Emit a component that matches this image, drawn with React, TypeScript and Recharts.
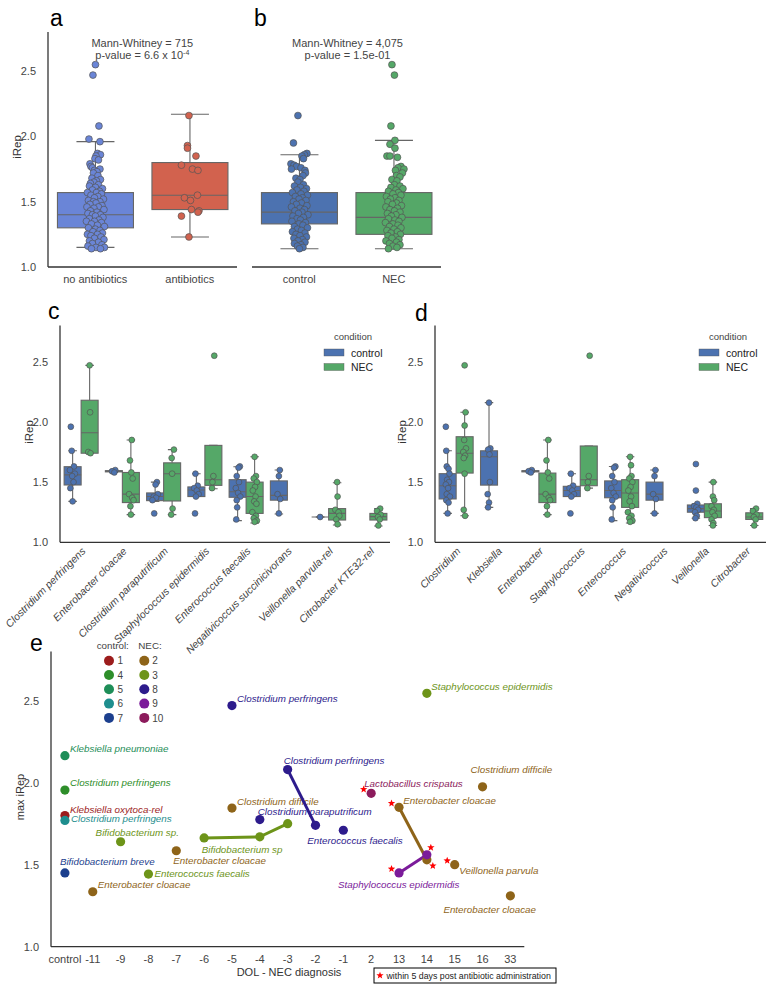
import { Bar, ComposedChart, Scatter, ScatterChart, XAxis, YAxis } from 'recharts'

const FONT = "'Liberation Sans', Arial, Helvetica, sans-serif"
const AXIS = '#333333'
const TICK = '#444444'
const EDGE = '#666666'
const CTRL = '#4C72B0'
const NECC = '#55A868'

// ---------- a: antibiotics ----------
const abxGroups = ['no antibiotics', 'antibiotics']
const abxColors = ['#6A85D7', '#D2624E']
// [whisker low, q1, median, q3, whisker high]
const abxStats = [
  [1.15, 1.3, 1.4, 1.57, 1.96],
  [1.23, 1.44, 1.55, 1.8, 2.17],
]
// [iRep, jitter]
const noAbxPoints = [
  [2.55, 0.0], [2.47, -0.25], [2.08, 0.35], [1.98, -0.65], [1.96, 0.45],
  [1.87, 0.2], [1.86, 0.5], [1.85, 0.05], [1.83, -0.05], [1.82, 0.3], [1.79, -0.55], [1.77, -0.45],
  [1.76, -0.3], [1.75, 0.45], [1.74, -0.1], [1.73, 0.15], [1.72, -0.2], [1.7, 0.25], [1.68, -0.35],
  [1.67, 0.5], [1.66, 0.1], [1.65, -0.15], [1.64, -0.5], [1.63, 0.3], [1.62, -0.6], [1.61, 0.0],
  [1.6, 0.7], [1.59, -0.3], [1.58, 0.4], [1.57, -0.8], [1.57, 0.1], [1.56, 0.6], [1.55, -0.45],
  [1.54, 0.25], [1.53, -0.1], [1.52, 0.8], [1.51, -0.7], [1.5, 0.45], [1.5, -0.2], [1.49, 0.05],
  [1.48, -0.55], [1.47, 0.65], [1.46, -0.85], [1.46, 0.3], [1.45, -0.15], [1.44, 0.85], [1.43, -0.5],
  [1.42, 0.15], [1.41, -0.75], [1.4, 0.5], [1.4, -0.3], [1.39, 0.0], [1.38, 0.75], [1.37, -0.6],
  [1.36, 0.35], [1.35, -0.9], [1.35, -0.1], [1.34, 0.6], [1.33, -0.4], [1.32, 0.2], [1.31, 0.9],
  [1.3, -0.7], [1.29, 0.0], [1.28, 0.45], [1.27, -0.25], [1.26, 0.7], [1.25, -0.8], [1.25, 0.2],
  [1.24, -0.45], [1.23, 0.55], [1.22, -0.1], [1.21, 0.85], [1.2, -0.6], [1.19, 0.3], [1.18, -0.3],
  [1.17, 0.65], [1.16, -0.75], [1.15, 0.05], [1.15, 0.9], [1.14, -0.4], [1.14, 0.5],
]
const abxPoints = [
  [2.16, -0.1], [1.93, -0.25], [1.91, -0.25], [1.85, 0.6], [1.78, -0.85], [1.75, 0.25], [1.74, 0.8],
  [1.55, 0.75], [1.53, -0.55], [1.51, 0.05], [1.44, 0.15], [1.43, 0.9], [1.42, 0.8], [1.39, -0.85],
  [1.23, -0.1],
]

// ---------- b: control vs NEC ----------
const necGroups = ['control', 'NEC']
const necColors = [CTRL, NECC]
const necStats = [
  [1.14, 1.33, 1.42, 1.57, 1.86],
  [1.14, 1.25, 1.38, 1.57, 1.97],
]
const controlPoints = [
  [2.16, -0.15], [1.95, -0.6], [1.87, 0.75], [1.86, 0.5], [1.85, 0.25], [1.83, 0.4], [1.79, -0.85],
  [1.78, -0.55], [1.77, -0.3], [1.76, 0.15], [1.75, -0.8], [1.74, 0.55], [1.72, 0.6], [1.7, 0.35],
  [1.68, -0.35], [1.67, 0.05], [1.65, -0.15], [1.63, 0.4], [1.62, -0.5], [1.61, 0.1], [1.6, 0.7],
  [1.59, -0.25], [1.58, 0.45], [1.57, -0.7], [1.56, 0.15], [1.55, 0.8], [1.54, -0.4], [1.53, 0.3],
  [1.52, -0.05], [1.51, 0.65], [1.5, -0.6], [1.49, 0.2], [1.48, -0.3], [1.47, 0.75], [1.46, -0.8],
  [1.45, 0.05], [1.44, 0.5], [1.43, -0.45], [1.42, 0.25], [1.41, -0.1], [1.4, 0.85], [1.39, -0.65],
  [1.38, 0.4], [1.37, -0.25], [1.36, 0.1], [1.35, -0.75], [1.34, 0.6], [1.33, -0.05], [1.32, 0.35],
  [1.31, -0.5], [1.3, 0.8], [1.29, -0.2], [1.28, 0.2], [1.27, -0.7], [1.26, 0.55], [1.25, -0.35],
  [1.24, 0.05], [1.23, 0.7], [1.22, -0.55], [1.21, 0.3], [1.2, -0.15], [1.19, 0.55], [1.18, -0.5],
  [1.17, 0.15], [1.16, -0.2], [1.15, 0.35], [1.14, 0.0],
]
const necPoints = [
  [2.55, -0.2], [2.47, 0.05], [2.08, -0.3], [1.97, 0.1], [1.94, -0.4], [1.91, 0.1], [1.85, -0.7],
  [1.85, -0.4], [1.84, 0.35], [1.77, 0.7], [1.76, 0.4], [1.75, 1.0], [1.74, 0.15], [1.72, 0.85],
  [1.7, 0.25], [1.69, 0.6], [1.67, -0.2], [1.66, 0.3], [1.63, 0.05], [1.62, 0.6], [1.61, -0.3],
  [1.6, 0.9], [1.59, 0.2], [1.58, -0.55], [1.57, 0.45], [1.56, -0.1], [1.55, 0.7], [1.54, -0.75],
  [1.53, 0.1], [1.52, -0.35], [1.51, 0.5], [1.5, -0.6], [1.49, 0.25], [1.48, -0.15], [1.47, 0.75],
  [1.46, -0.8], [1.45, 0.35], [1.44, -0.4], [1.43, 0.05], [1.42, 0.6], [1.41, -0.65], [1.4, 0.2],
  [1.39, -0.25], [1.38, 0.8], [1.37, -0.55], [1.36, 0.1], [1.35, 0.5], [1.34, -0.85], [1.33, -0.1],
  [1.32, 0.4], [1.31, -0.45], [1.3, 0.7], [1.29, 0.0], [1.28, -0.7], [1.27, 0.35], [1.26, -0.3],
  [1.25, 0.65], [1.24, -0.6], [1.23, 0.15], [1.22, -0.2], [1.21, 0.5], [1.2, -0.8], [1.19, 0.25],
  [1.18, -0.45], [1.17, 0.6], [1.16, -0.1], [1.15, 0.3], [1.14, -0.55],
]

// ---------- c: species ----------
const species = [
  'Clostridium perfringens', 'Enterobacter cloacae', 'Clostridium paraputrificum',
  'Staphylococcus epidermidis', 'Enterococcus faecalis', 'Negativicoccus succinicivorans',
  'Veillonella parvula-rel', 'Citrobacter KTE32-rel',
]
const speciesCtrlStats = [
  [1.34, 1.476, 1.56, 1.628, 1.76],
  [1.58, 1.585, 1.59, 1.595, 1.6],
  [1.34, 1.346, 1.38, 1.41, 1.5],
  [1.38, 1.38, 1.435, 1.46, 1.57],
  [1.18, 1.374, 1.42, 1.52, 1.628],
  [1.235, 1.35, 1.39, 1.51, 1.6],
  [1.21, 1.21, 1.21, 1.21, 1.21],
  null,
]
const speciesCtrlPoints = [
  [[1.96, -0.4], [1.76, -0.2], [1.63, 0.3], [1.6, -0.6], [1.57, 0.5], [1.55, -0.1], [1.5, 0.2], [1.45, -0.5], [1.34, 0.0]],
  [[1.6, 0.3], [1.59, -0.4], [1.58, 0.1]],
  [[1.5, 0.4], [1.48, 0.1], [1.4, 0.6], [1.38, -0.3], [1.37, 0.2], [1.35, -0.6], [1.24, -0.2]],
  [[1.57, -0.2], [1.47, 0.3], [1.45, -0.5], [1.43, 0.1], [1.4, 0.5], [1.38, -0.1], [1.24, -0.3]],
  [[1.63, 0.5], [1.62, 0.2], [1.55, -0.2], [1.5, 0.3], [1.45, -0.4], [1.41, 0.1], [1.38, 0.6], [1.35, -0.2], [1.29, -0.1], [1.19, -0.3]],
  [[1.6, 0.2], [1.55, 0.0], [1.4, -0.3], [1.36, 0.3], [1.24, 0.0]],
  [[1.21, 0.0]],
  [],
]
const speciesNecStats = [
  [1.74, 1.74, 1.91, 2.18, 2.47],
  [1.23, 1.33, 1.4, 1.58, 1.85],
  [1.23, 1.343, 1.57, 1.66, 1.77],
  [1.445, 1.473, 1.52, 1.805, 1.805],
  [1.16, 1.24, 1.38, 1.5, 1.71],
  null,
  [1.144, 1.185, 1.24, 1.28, 1.495],
  [1.136, 1.185, 1.213, 1.24, 1.28],
]
const speciesNecPoints = [
  [[2.47, 0.0], [2.08, 0.1], [1.75, -0.3], [1.74, 0.2]],
  [[1.85, 0.2], [1.68, -0.2], [1.58, 0.1], [1.53, 0.4], [1.4, -0.4], [1.37, 0.3], [1.35, 0.6], [1.3, -0.1], [1.23, 0.0]],
  [[1.77, 0.4], [1.7, -0.1], [1.57, 0.0], [1.28, 0.1], [1.23, -0.2]],
  [[2.55, 0.2], [1.55, 0.0], [1.5, -0.2], [1.45, -0.3]],
  [[1.71, 0.0], [1.55, 0.3], [1.53, -0.2], [1.5, 0.5], [1.46, 0.1], [1.43, -0.4], [1.38, 0.2], [1.34, -0.1], [1.32, 0.4], [1.25, -0.5], [1.22, 0.3], [1.2, -0.2], [1.18, 0.5], [1.17, 0.0]],
  [],
  [[1.5, 0.0], [1.38, 0.1], [1.27, -0.4], [1.25, 0.3], [1.22, 0.5], [1.19, -0.2], [1.15, 0.1]],
  [[1.28, 0.4], [1.26, -0.3], [1.23, 0.5], [1.21, -0.1], [1.19, 0.3], [1.14, 0.0]],
]

// ---------- d: genus ----------
const genera = [
  'Clostridium', 'Klebsiella', 'Enterobacter', 'Staphylococcus',
  'Enterococcus', 'Negativicoccus', 'Veillonella', 'Citrobacter',
]
const genusCtrlStats = [
  [1.24, 1.36, 1.47, 1.57, 1.76],
  [1.29, 1.475, 1.71, 1.76, 2.16],
  [1.58, 1.585, 1.59, 1.595, 1.6],
  [1.38, 1.38, 1.43, 1.465, 1.57],
  [1.18, 1.37, 1.43, 1.51, 1.63],
  [1.24, 1.35, 1.4, 1.5, 1.6],
  [1.2, 1.25, 1.28, 1.31, 1.32],
  null,
]
const genusCtrlPoints = [
  [[1.96, -0.4], [1.76, -0.3], [1.63, -0.2], [1.61, 0.2], [1.57, 0.4], [1.52, -0.1], [1.5, 0.3], [1.48, -0.4], [1.45, 0.1], [1.4, -0.2], [1.38, 0.5], [1.35, -0.3], [1.33, 0.2], [1.24, 0.0]],
  [[2.16, 0.0], [1.78, 0.3], [1.77, -0.2], [1.73, 0.1], [1.5, 0.2], [1.4, -0.3], [1.33, 0.0], [1.29, -0.2]],
  [[1.6, 0.3], [1.59, -0.4], [1.58, 0.1]],
  [[1.57, -0.2], [1.47, 0.3], [1.45, -0.5], [1.43, 0.1], [1.4, 0.5], [1.38, -0.1], [1.24, -0.3]],
  [[1.63, 0.5], [1.62, 0.2], [1.55, -0.2], [1.5, 0.3], [1.45, -0.4], [1.41, 0.1], [1.38, 0.6], [1.35, -0.2], [1.29, -0.1], [1.19, -0.3]],
  [[1.6, 0.2], [1.55, 0.0], [1.4, -0.3], [1.36, 0.3], [1.24, 0.0]],
  [[1.65, 0.0], [1.43, 0.0], [1.32, 0.3], [1.3, -0.4], [1.29, 0.1], [1.27, 0.5], [1.25, -0.2], [1.22, 0.2], [1.2, -0.1]],
  [],
]
const genusNecStats = [
  [1.22, 1.575, 1.74, 1.877, 2.08],
  null,
  [1.23, 1.33, 1.4, 1.575, 1.85],
  [1.45, 1.47, 1.52, 1.8, 1.8],
  [1.16, 1.29, 1.41, 1.52, 1.71],
  null,
  [1.14, 1.205, 1.26, 1.32, 1.5],
  [1.14, 1.19, 1.21, 1.245, 1.28],
]
const genusNecPoints = [
  [[2.47, 0.0], [2.08, 0.2], [1.97, 0.0], [1.85, -0.1], [1.78, 0.3], [1.75, -0.3], [1.72, 0.1], [1.7, -0.2], [1.57, 0.0], [1.27, -0.2], [1.22, 0.1]],
  [],
  [[1.85, 0.2], [1.68, -0.2], [1.58, 0.1], [1.53, 0.4], [1.4, -0.4], [1.37, 0.3], [1.35, 0.6], [1.3, -0.1], [1.23, 0.0]],
  [[2.55, 0.2], [1.55, 0.0], [1.5, -0.2], [1.45, -0.3]],
  [[1.71, 0.0], [1.64, 0.2], [1.55, 0.3], [1.53, -0.2], [1.5, 0.5], [1.46, 0.1], [1.43, -0.4], [1.38, 0.2], [1.34, -0.1], [1.3, 0.4], [1.25, -0.5], [1.22, 0.3], [1.2, -0.2], [1.18, 0.5], [1.17, 0.0]],
  [],
  [[1.5, 0.1], [1.38, 0.0], [1.35, 0.3], [1.3, -0.3], [1.27, 0.2], [1.25, -0.1], [1.22, 0.4], [1.19, -0.3], [1.16, 0.1], [1.14, 0.0]],
  [[1.28, 0.4], [1.26, -0.3], [1.23, 0.5], [1.21, -0.1], [1.19, 0.3], [1.14, 0.0]],
]

// ---------- e: max iRep vs DOL ----------
const dolTicks = ['control', '-11', '-9', '-8', '-7', '-6', '-5', '-4', '-3', '-2', '-1', '2', '13', '14', '15', '16', '33']
const controlSubjects = ['1', '4', '5', '6', '7']
const necSubjects = ['2', '3', '8', '9', '10']
const subjectColors: Record<string, string> = {
  '1': '#9C1C1C', '4': '#2E8E2A', '5': '#1E8E58', '6': '#1E8E8E', '7': '#1C3F8E',
  '2': '#8E6419', '3': '#6D9419', '8': '#2D1B8C', '9': '#7B1B9A', '10': '#8C1B5C',
}
// [DOL, max iRep, subject, taxon, antibiotic star, track]
const maxIRep: [string, number, string, string, string, string][] = [
  ['control', 2.165, '5', 'Klebsiella pneumoniae', '', ''],
  ['control', 1.955, '4', 'Clostridium perfringens', '', ''],
  ['control', 1.8, '1', 'Klebsiella oxytoca-rel', '', ''],
  ['control', 1.77, '6', 'Clostridium perfringens', '', ''],
  ['control', 1.45, '7', 'Bifidobacterium breve', '', ''],
  ['-11', 1.335, '2', 'Enterobacter cloacae', '', ''],
  ['-9', 1.64, '3', 'Bifidobacterium sp.', '', ''],
  ['-8', 1.443, '3', 'Enterococcus faecalis', '', ''],
  ['-7', 1.585, '2', 'Enterobacter cloacae', '', ''],
  ['-6', 1.663, '3', '', '', 'bifido'],
  ['-5', 2.47, '8', 'Clostridium perfringens', '', ''],
  ['-5', 1.845, '2', 'Clostridium difficile', '', ''],
  ['-4', 1.775, '8', 'Clostridium paraputrificum', '', ''],
  ['-4', 1.67, '3', 'Bifidobacterium sp', '', 'bifido'],
  ['-3', 1.75, '3', '', '', 'bifido'],
  ['-3', 2.08, '8', 'Clostridium perfringens', '', 'cperf'],
  ['-2', 1.74, '8', '', '', 'cperf'],
  ['-1', 1.71, '8', 'Enterococcus faecalis', '', ''],
  ['2', 1.935, '10', 'Lactobacillus crispatus', 'ul', ''],
  ['13', 1.85, '2', 'Enterobacter cloacae', 'ul', 'ecloacae'],
  ['13', 1.45, '9', 'Staphylococcus epidermidis', 'ul', 'sepi'],
  ['14', 2.545, '3', 'Staphylococcus epidermidis', '', ''],
  ['14', 1.53, '2', '', 'dr', 'ecloacae'],
  ['14', 1.56, '9', '', 'ur', 'sepi'],
  ['15', 1.5, '2', 'Veillonella parvula', 'ul', ''],
  ['16', 1.975, '2', 'Clostridium difficile', '', ''],
  ['33', 1.31, '2', 'Enterobacter cloacae', '', ''],
]
const trackNames = ['bifido', 'cperf', 'ecloacae', 'sepi']

// label placement next to each point (px from the point, text centre)
const eLabelOffset = [
  [5, -7], [5, -7], [5, -6], [6, -2], [-5, -11.5], [5, -7.5], [-25, -9.5], [6, 0], [-3, 9.7],
  [0, 0], [5, -7], [5, -7], [-2, -8.4], [-58, 12.3], [0, 0], [-4, -9], [0, 0], [-36, 10.7],
  [-7, -10], [4.3, -7], [-61, 11.6], [4.3, -7], [0, 0], [0, 0], [4.6, 5.7], [-12, -17], [-67, 14],
]
const starOffset: Record<string, number[]> = { ul: [-7.5, -4], ur: [4, -7.3], dr: [6, 6] }

const yAxisProps = {
  type: 'number' as const,
  domain: [1, 2.8],
  ticks: [1, 1.5, 2, 2.5],
  allowDataOverflow: true,
  tickLine: false,
  tickMargin: 6,
  tickFormatter: (v: number) => v.toFixed(1),
  axisLine: { stroke: AXIS, strokeWidth: 1.3 },
  tick: { fill: TICK, fontSize: 11, fontFamily: FONT },
}

const starPath = (cx: number, cy: number, R: number) => {
  let d = ''
  for (let i = 0; i < 10; i++) {
    const r = i % 2 ? R * 0.42 : R
    const a = -Math.PI / 2 + (i * Math.PI) / 5
    d += (i ? 'L' : 'M') + (cx + r * Math.cos(a)).toFixed(2) + ' ' + (cy + r * Math.sin(a)).toFixed(2)
  }
  return d + 'Z'
}

// box + whiskers + strip points; the bar spans whisker low..high, the rest is placed on that scale
const BoxShape = (props: any) => {
  const { x, y, width, height, box, color, jitter, r } = props
  if (!box || x == null || isNaN(y)) return <g />
  const [lo, q1, med, q3, hi] = box.stats
  const top = Math.min(y, y + height)
  const bottom = Math.max(y, y + height)
  const k = hi > lo ? (bottom - top) / (hi - lo) : 0
  const py = (v: number) => bottom - (v - lo) * k
  const cx = x + width / 2
  const cap = width / 4
  return (
    <g>
      <line x1={cx} x2={cx} y1={py(hi)} y2={py(q3)} stroke={EDGE} strokeWidth={1.1} />
      <line x1={cx} x2={cx} y1={py(q1)} y2={py(lo)} stroke={EDGE} strokeWidth={1.1} />
      <line x1={cx - cap} x2={cx + cap} y1={py(hi)} y2={py(hi)} stroke={EDGE} strokeWidth={1.1} />
      <line x1={cx - cap} x2={cx + cap} y1={py(lo)} y2={py(lo)} stroke={EDGE} strokeWidth={1.1} />
      <rect x={x} y={py(q3)} width={width} height={Math.max(py(q1) - py(q3), 0)} fill={color} stroke={EDGE} strokeWidth={1.1} />
      <line x1={x} x2={x + width} y1={py(med)} y2={py(med)} stroke={EDGE} strokeWidth={1.1} />
      {box.pts.map(([v, j]: number[], i: number) => (
        <circle key={i} cx={cx + j * jitter} cy={py(v)} r={r} fill={color} stroke="#555" strokeWidth={0.7} />
      ))}
    </g>
  )
}

const SlantTick = ({ x, y, payload }: any) => (
  <text
    x={x + 3}
    y={y - 1}
    transform={`rotate(-45 ${x + 3} ${y - 1})`}
    textAnchor="end"
    dy="0.35em"
    fontSize={10.5}
    fontStyle="italic"
    fill={TICK}
    fontFamily={FONT}
  >
    {payload.value}
  </text>
)

const abRows = (groups: string[], stats: number[][], pts: number[][][], colors: string[]) =>
  groups.map((g, i) => ({ group: g, box: { stats: stats[i], pts: pts[i] }, color: colors[i] }))

const aRows = abRows(abxGroups, abxStats, [noAbxPoints, abxPoints], abxColors)
const bRows = abRows(necGroups, necStats, [controlPoints, necPoints], necColors)

const hueRows = (cats: string[], cs: any[], cp: number[][][], ns: any[], np: number[][][]) =>
  cats.map((c, i) => ({
    cat: c,
    ctrl: cs[i] ? { stats: cs[i], pts: cp[i] } : null,
    nec: ns[i] ? { stats: ns[i], pts: np[i] } : null,
  }))

const cRows = hueRows(species, speciesCtrlStats, speciesCtrlPoints, speciesNecStats, speciesNecPoints)
const dRows = hueRows(genera, genusCtrlStats, genusCtrlPoints, genusNecStats, genusNecPoints)

const eRows = maxIRep.map(([day, v, subject, taxon, star, track], i) => ({
  x: dolTicks.indexOf(day),
  y: v,
  subject,
  taxon,
  star,
  track,
  dx: eLabelOffset[i][0],
  dy: eLabelOffset[i][1],
}))

const SimpleBoxChart = ({ rows, left, width, ml, mr, showY }: any) => (
  <div style={{ position: 'absolute', left, top: 0 }}>
    <ComposedChart width={width} height={300} data={rows} margin={{ top: 32, right: mr, bottom: 0, left: ml }} barCategoryGap="10%">
      <XAxis
        dataKey="group"
        type="category"
        height={33}
        tickLine={false}
        interval={0}
        axisLine={{ stroke: AXIS, strokeWidth: 1.3 }}
        tick={{ fill: TICK, fontSize: 11, fontFamily: FONT }}
      />
      {showY ? <YAxis {...yAxisProps} width={48} /> : <YAxis {...yAxisProps} width={0} tick={false} />}
      <Bar
        dataKey={(d: any) => [d.box.stats[0], d.box.stats[4]]}
        isAnimationActive={false}
        shape={(p: any) => <BoxShape {...p} box={p.payload.box} color={p.payload.color} jitter={10} r={3.4} />}
      />
    </ComposedChart>
  </div>
)

const HueBoxChart = ({ rows, left, width, yWidth, mr }: any) => (
  <div style={{ position: 'absolute', left, top: 300 }}>
    <ComposedChart width={width} height={385} data={rows} margin={{ top: 25.6, right: mr, bottom: 0, left: 0 }} barCategoryGap="10%" barGap={0}>
      <XAxis dataKey="cat" type="category" height={142.7} tickLine={false} interval={0} axisLine={{ stroke: AXIS, strokeWidth: 1.3 }} tick={<SlantTick />} />
      <YAxis {...yAxisProps} width={yWidth} />
      <Bar
        dataKey={(d: any) => (d.ctrl ? [d.ctrl.stats[0], d.ctrl.stats[4]] : null)}
        isAnimationActive={false}
        shape={(p: any) => <BoxShape {...p} box={p.payload.ctrl} color={CTRL} jitter={4.5} r={2.9} />}
      />
      <Bar
        dataKey={(d: any) => (d.nec ? [d.nec.stats[0], d.nec.stats[4]] : null)}
        isAnimationActive={false}
        shape={(p: any) => <BoxShape {...p} box={p.payload.nec} color={NECC} jitter={4.5} r={2.9} />}
      />
    </ComposedChart>
  </div>
)

const ELabel = ({ cx, cy, payload }: any) =>
  payload.taxon ? (
    <text x={cx + payload.dx} y={cy + payload.dy + 3.4} fontSize={9.8} fontStyle="italic" fontFamily={FONT} fill={subjectColors[payload.subject]}>
      {payload.taxon}
    </text>
  ) : (
    <g />
  )

const EPoint = ({ cx, cy, payload }: any) => {
  const off = starOffset[payload.star]
  return (
    <g>
      <circle cx={cx} cy={cy} r={4.6} fill={subjectColors[payload.subject]} />
      {off && <path d={starPath(cx + off[0], cy + off[1], 3.9)} fill="#FF0000" />}
    </g>
  )
}

const ConditionLegend = ({ x, y }: { x: number; y: number }) => (
  <g fontFamily={FONT}>
    <text x={x + 29} y={y} textAnchor="middle" fontSize={9.5} fill={TICK}>condition</text>
    <rect x={x} y={y + 9} width={20} height={7} fill={CTRL} stroke="#555" strokeWidth={0.4} />
    <text x={x + 27} y={y + 17} fontSize={10.5} fill="#222">control</text>
    <rect x={x} y={y + 23.5} width={20} height={7} fill={NECC} stroke="#555" strokeWidth={0.4} />
    <text x={x + 27} y={y + 31} fontSize={10.5} fill="#222">NEC</text>
  </g>
)

const App = () => {
  return (
    <div style={{ position: 'absolute', left: 0, top: 0, width: 775, height: 993, background: '#fff', fontFamily: FONT }}>
      <SimpleBoxChart rows={aRows} left={0} width={245} ml={0} mr={8} showY />
      <SimpleBoxChart rows={bRows} left={245} width={205} ml={7} mr={9} showY={false} />
      <HueBoxChart rows={cRows} left={0} width={395} yWidth={60} mr={5} />
      <HueBoxChart rows={dRows} left={380} width={395} yWidth={55} mr={9} />

      <div style={{ position: 'absolute', left: 0, top: 640 }}>
        <ScatterChart width={560} height={353} margin={{ top: 11.5, right: 35.7, bottom: 0, left: 0 }}>
          <XAxis
            dataKey="x"
            type="number"
            domain={[-0.5, 16.5]}
            ticks={dolTicks.map((_, i) => i)}
            interval={0}
            tickFormatter={(i: number) => dolTicks[i]}
            height={46.3}
            tickLine={false}
            axisLine={{ stroke: AXIS, strokeWidth: 1.3 }}
            tick={{ fill: TICK, fontSize: 11, fontFamily: FONT }}
          />
          <YAxis dataKey="y" {...yAxisProps} width={51} />
          <Scatter data={eRows} shape={<ELabel />} isAnimationActive={false} />
          {trackNames.map((t) => {
            const pts = eRows.filter((r) => r.track === t)
            return (
              <Scatter
                key={t}
                data={pts}
                line={{ stroke: subjectColors[pts[0].subject], strokeWidth: 3 }}
                shape={() => <g />}
                isAnimationActive={false}
              />
            )
          })}
          <Scatter data={eRows} shape={<EPoint />} isAnimationActive={false} />
        </ScatterChart>
      </div>

      <svg width={775} height={993} style={{ position: 'absolute', left: 0, top: 0, pointerEvents: 'none' }} fontFamily={FONT}>
        <text x={50} y={26} fontSize={23} fill="#000">a</text>
        <text x={254} y={26} fontSize={23} fill="#000">b</text>
        <text x={48} y={319} fontSize={23} fill="#000">c</text>
        <text x={415} y={321} fontSize={23} fill="#000">d</text>
        <text x={30} y={651} fontSize={23} fill="#000">e</text>

        <text x={142.3} y={47} textAnchor="middle" fontSize={11} fill={TICK}>Mann-Whitney = 715</text>
        <text x={142.3} y={59} textAnchor="middle" fontSize={11} fill={TICK}>
          p-value = 6.6 x 10<tspan fontSize={7} dy={-4}>-4</tspan>
        </text>
        <text x={347.5} y={47} textAnchor="middle" fontSize={11} fill={TICK}>Mann-Whitney = 4,075</text>
        <text x={347.5} y={59} textAnchor="middle" fontSize={11} fill={TICK}>p-value = 1.5e-01</text>

        <text transform="translate(20.5 147) rotate(-90)" textAnchor="middle" fontSize={11.5} fill="#333">iRep</text>
        <text transform="translate(32.5 432) rotate(-90)" textAnchor="middle" fontSize={11.5} fill="#333">iRep</text>
        <text transform="translate(406 432) rotate(-90)" textAnchor="middle" fontSize={11.5} fill="#333">iRep</text>
        <text transform="translate(24 797) rotate(-90)" textAnchor="middle" fontSize={11} fill="#333">max iRep</text>
        <text x={289} y={976} textAnchor="middle" fontSize={11} fill="#333">DOL - NEC diagnosis</text>

        <ConditionLegend x={324} y={340} />
        <ConditionLegend x={699} y={340} />

        <text x={96.7} y={648.5} fontSize={9.8} fill={TICK}>control:</text>
        <text x={138.3} y={648.5} fontSize={9.8} fill={TICK}>NEC:</text>
        {controlSubjects.map((s, i) => (
          <g key={s}>
            <circle cx={109} cy={660.7 + i * 14.3} r={5} fill={subjectColors[s]} />
            <text x={117.5} y={664.3 + i * 14.3} fontSize={10} fill={TICK}>{s}</text>
          </g>
        ))}
        {necSubjects.map((s, i) => (
          <g key={s}>
            <circle cx={144.3} cy={660.7 + i * 14.3} r={5} fill={subjectColors[s]} />
            <text x={152.3} y={664.3 + i * 14.3} fontSize={10} fill={TICK}>{s}</text>
          </g>
        ))}

        <rect x={374} y={968} width={182} height={15} fill="#fff" stroke="#000" strokeWidth={1} />
        <path d={starPath(380, 975.5, 3.8)} fill="#FF0000" />
        <text x={386.5} y={978.8} fontSize={8.8} fill="#222">within 5 days post antibiotic administration</text>
      </svg>
    </div>
  )
}

export default App
